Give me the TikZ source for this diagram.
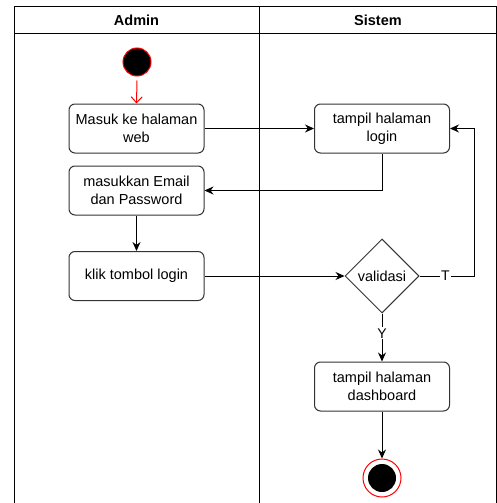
\documentclass[tikz,border=0pt]{standalone}
\usepackage{fontspec}
\setmainfont{Liberation Sans}
\usetikzlibrary{shapes.geometric,arrows.meta}
\begin{document}
\begin{tikzpicture}[x=1pt,y=-1pt,
  act/.style={draw=black!80, rounded corners=6pt, line width=1pt, minimum width=135pt, minimum height=49pt, align=center, font=\fontsize{14.5}{18}\selectfont, inner sep=0pt},
  flow/.style={-{Stealth[length=9pt,width=8pt]}, line width=1pt},
  lbl/.style={fill=white, inner sep=1pt, font=\fontsize{14}{16}\selectfont},
  lane/.style={line width=1pt}]
\useasboundingbox (0,0) rectangle (497,503);
\fill[white] (0,0) rectangle (497,503);
% swimlanes
\draw[lane] (14,503) -- (14,7) -- (496.5,7) -- (496.5,503);
\draw[lane] (14,34) -- (496.5,34);
\draw[lane] (259,7) -- (259,503);
\node[font=\bfseries\fontsize{14.5}{16}\selectfont] (hA) at (136.5,20.5) {Admin};
\node[font=\bfseries\fontsize{14.5}{16}\selectfont] (hS) at (378,20.5) {Sistem};
% nodes
\node[circle, fill=black, draw=red, line width=1pt, minimum size=28pt, inner sep=0pt] (start) at (137,62) {};
\node[act] (m1) at (136.5,128.5) {Masuk ke halaman\\web};
\node[act] (me) at (136.5,190.5) {masukkan Email\\dan Password};
\node[act] (kl) at (136.5,276) {klik tombol login};
\node[act] (tl) at (382,128.5) {tampil halaman\\login};
\node[diamond, draw=black!80, line width=1pt, minimum width=74pt, minimum height=74pt, inner sep=0pt, font=\fontsize{14.5}{18}\selectfont] (val) at (382,276) {validasi};
\node[act] (db) at (382,386.5) {tampil halaman\\dashboard};
\node[circle, fill=white, draw=red, line width=1pt, minimum size=38pt, inner sep=0pt] (endo) at (382,478) {};
\node[circle, fill=black, minimum size=28pt, inner sep=0pt] (endi) at (382,478) {};
% connectors
\draw[red, line width=1pt, -{Straight Barb[length=6pt,width=11pt]}] (start.south) ++(0,4) -- (m1.north);
\draw[flow] (m1) -- (tl);
\draw[flow] (tl.south) |- (me.east);
\draw[flow] (me) -- (kl);
\draw[flow] (kl.east) -- (val.west);
\draw[flow] (val.east) -- node[lbl, pos=0.47]{T} ++(55,0) |- (tl.east);
\draw[flow] (val.south) -- node[lbl, pos=0.41]{Y} (db.north);
\draw[flow] (db.south) -- (endo.north);
\end{tikzpicture}
\end{document}
